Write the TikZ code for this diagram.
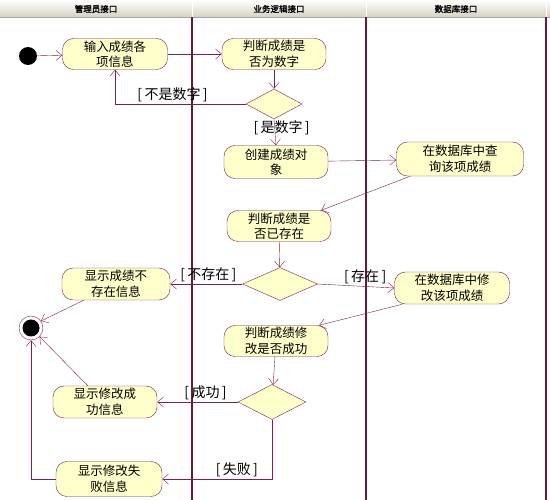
\documentclass[tikz,border=0pt]{standalone}
\usepackage{fontspec}
\newfontfamily\cjk{Noto Sans CJK SC}
\newfontfamily\cjkhead[FakeBold=1.5]{Noto Sans CJK SC}
\usetikzlibrary{arrows.meta,shapes.geometric}
\tikzset{>={Straight Barb[length=6pt,width=10pt]}}
\definecolor{Color1}{RGB}{128,30,80}
\definecolor{Color2}{RGB}{255,255,204}
\definecolor{Color3}{RGB}{214,210,194}
\tikzset{
	act/.style={draw=Color1,fill=Color2,rounded corners=11pt,minimum width=104pt,minimum height=31pt,inner sep=1pt,align=center,font=\cjk\fontsize{12.5}{15.5}\selectfont},
	choice/.style={draw=Color1,fill=Color2,diamond,inner sep=0pt},
	flow/.style={draw=Color1,->},
	guard/.style={font=\cjk\fontsize{14}{16}\selectfont,inner sep=2pt},
	lanehead/.style={font=\cjkhead\fontsize{8.5}{10}\selectfont},
	lane/.style={draw=Color1!80!black,line width=1.1pt},
}

\begin{document}
\begin{tikzpicture}[x=1pt,y=-1pt]
		\useasboundingbox (0,0) rectangle (550,500);
		% header
		\shade[top color=white,bottom color=Color3] (0,0) rectangle (550,17);
		\draw[gray!70] (0,17) -- (550,17);
		\draw[white] (192,0) -- (192,17) (366,0) -- (366,17) (546,0) -- (546,17);
		\node[lanehead] (lane1) at (96,9) {管理员接口};
		\node[lanehead] (lane2) at (279,9) {业务逻辑接口};
		\node[lanehead] (lane3) at (456,9) {数据库接口};

		% swimlanes
		\draw[lane] (192,17) -- (192,500);
		\draw[lane] (366,17) -- (366,500);
		\draw[lane] (546,17) -- (546,500);

		% start and end
		\node[circle,fill=black,minimum size=18pt,inner sep=0pt] (start) at (28,56) {};
		\node[circle,draw=Color1,fill=white,minimum size=24pt,inner sep=0pt] (finish) at (31,328) {};
		\fill[black] (finish.center) circle (8.5);

		% activities
		\node[act,minimum width=105pt] (input) at (115,54) {输入成绩各\\项信息};
		\node[act] (isnum) at (274,54) {判断成绩是\\否为数字};
		\node[act,minimum height=33pt] (create) at (276,162) {创建成绩对\\象};
		\node[act,minimum width=127pt,minimum height=34pt] (query) at (460,159) {在数据库中查\\询该项成绩};
		\node[act] (exist) at (279,226) {判断成绩是\\否已存在};
		\node[act,minimum width=108pt,minimum height=32pt] (noexist) at (116,284) {显示成绩不\\存在信息};
		\node[act,minimum width=115pt,minimum height=32pt] (modify) at (452,288) {在数据库中修\\改该项成绩};
		\node[act] (okcheck) at (276,341) {判断成绩修\\改是否成功};
		\node[act,minimum height=32pt] (success) at (105,402) {显示修改成\\功信息};
		\node[act,minimum width=106pt,minimum height=35pt] (failure) at (109,479) {显示修改失\\败信息};

		% decisions
		\node[choice,minimum width=56pt,minimum height=30pt] (d1) at (274,104) {};
		\node[choice,minimum width=75pt,minimum height=33pt] (d2) at (280,284) {};
		\node[choice,minimum width=68pt,minimum height=35pt] (d3) at (272,402) {};

		% flows
		\draw[flow] (start) -- (input);
		\draw[flow] (input) -- (isnum);
		\draw[flow] (isnum) -- (d1);
		\draw[flow] (d1.west) -| node[guard,pos=0.28,above] {[\,不是数字\,]} (input.south);
		\draw[flow] (d1.south) -- node[guard,pos=0.33,xshift=7pt] {[\,是数字\,]} (create.north);
		\draw[flow] (create) -- (query);
		\draw[flow] ([xshift=14pt]query.south west) -- ([xshift=-10pt]exist.north east);
		\draw[flow] (exist) -- (d2);
		\draw[flow] (d2.west) -- node[guard,pos=0.47,above] {[\,不存在\,]} (noexist.east);
		\draw[flow] (d2.east) -- node[guard,pos=0.62,above] {[\,存在\,]} (modify.west);
		\draw[flow] ([xshift=8pt]modify.south west) -- ([xshift=-9pt]okcheck.north east);
		\draw[flow] ([xshift=22pt]noexist.south west) -- (finish.35);
		\draw[flow] (okcheck) -- (d3);
		\draw[flow] (d3.west) -- node[guard,pos=0.4,above] {[\,成功\,]} (success.east);
		\draw[flow] ([xshift=35pt]success.north west) -- (finish.-45);
		\draw[flow] (d3.south) |- node[guard,pos=0.66,above] {[\,失败\,]} (failure.east);
		\draw[flow] (failure.west) -| (finish.south);
	\end{tikzpicture}
\end{document}
